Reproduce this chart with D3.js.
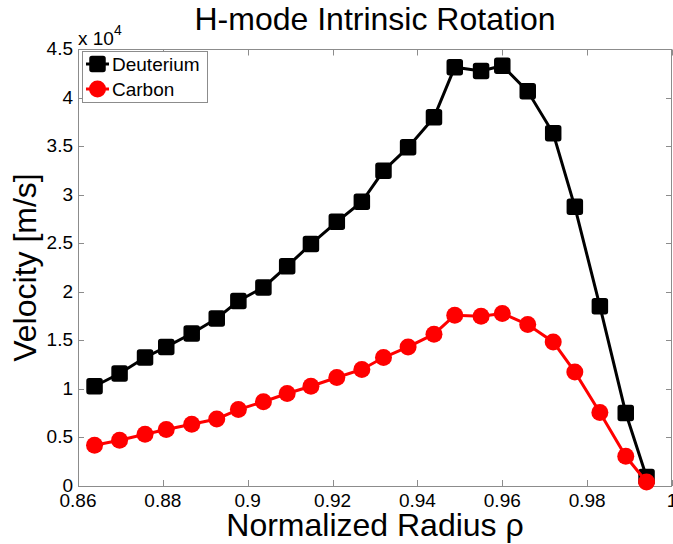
<!DOCTYPE html>
<html>
<head>
<meta charset="utf-8">
<script src="https://cdn.jsdelivr.net/npm/d3@7"></script>
<style>
  body { margin: 0; background: #fff; }
  #graf { width: 673px; height: 544px; }
  text { font-family: "Liberation Sans", Arial, sans-serif; fill: #000; }
</style>
</head>
<body>
<div id="graf"></div>
<script>
// datos
const radio = [0.8639, 0.8698, 0.8758, 0.8808, 0.8868, 0.8927, 0.8978, 0.9037, 0.9093, 0.9149, 0.9210, 0.9269,
  0.9320, 0.9378, 0.9439, 0.9488, 0.9550, 0.9600, 0.9660, 0.9720, 0.9771, 0.9830, 0.9891, 0.9940]
const deuterio = [10270, 11580, 13230, 14320, 15700, 17250, 19060, 20450, 22640, 24910, 27200, 29270,
  32460, 34870, 37960, 43120, 42740, 43280, 40640, 36320, 28750, 18520, 7520, 930]
const carbono = [4190, 4710, 5330, 5810, 6360, 6900, 7870, 8680, 9520, 10270, 11170, 12000,
  13230, 14320, 15630, 17590, 17490, 17770, 16630, 14840, 11750, 7560, 3060, 410]
const xTicks = [0.86, 0.88, 0.9, 0.92, 0.94, 0.96, 0.98, 1]
const yTicks = [0, 5000, 10000, 15000, 20000, 25000, 30000, 35000, 40000, 45000]
const series = [
  { name: "Deuterium", values: deuterio, color: "#000", marker: "square" },
  { name: "Carbon", values: carbono, color: "#ff0000", marker: "circle" }
]

const anchoTotal = 673
const altoTotal = 544
const margins = { left: 78, top: 49, right: 1, bottom: 58 }
const ancho = anchoTotal - margins.left - margins.right
const alto = altoTotal - margins.top - margins.bottom
const gris = "#8c8c8c"

const svg = d3.select("#graf")
  .append("svg")
  .attr("width", anchoTotal)
  .attr("height", altoTotal)

const g = svg.append("g")
  .attr("transform", `translate(${margins.left}, ${margins.top})`)

const x = d3.scaleLinear().domain([0.86, 1]).range([0, ancho])
const y = d3.scaleLinear().domain([0, 45000]).range([alto, 0])

// caja
g.append("rect")
  .attr("x", 0.5).attr("y", 0.5)
  .attr("width", ancho - 1).attr("height", alto)
  .attr("fill", "none").attr("stroke", gris)

// ticks hacia dentro
const tickLen = 6
g.selectAll(".tx").data(xTicks).enter()
  .append("path")
  .attr("d", (d) => `M${Math.round(x(d)) + 0.5},${alto}v${-tickLen}M${Math.round(x(d)) + 0.5},0.5v${tickLen}`)
  .attr("stroke", gris)
g.selectAll(".ty").data(yTicks).enter()
  .append("path")
  .attr("d", (d) => `M0,${Math.round(y(d)) + 0.5}h${tickLen}M${ancho},${Math.round(y(d)) + 0.5}h${-tickLen}`)
  .attr("stroke", gris)

g.selectAll(".lx").data(xTicks).enter()
  .append("text")
  .attr("x", (d) => x(d))
  .attr("y", alto + 21)
  .attr("text-anchor", "middle")
  .style("font-size", "19px")
  .text((d) => d3.format("")(d))

g.selectAll(".ly").data(yTicks).enter()
  .append("text")
  .attr("x", -5)
  .attr("y", (d) => y(d) + 6)
  .attr("text-anchor", "end")
  .style("font-size", "19px")
  .text((d) => d3.format("")(d / 10000))

// exponente
const expo = g.append("text").attr("x", 0).attr("y", -4).style("font-size", "19px")
expo.append("tspan").text("x 10")
expo.append("tspan").attr("dy", -10).style("font-size", "14px").text("4")

// titulo y etiquetas
g.append("text")
  .attr("x", ancho / 2).attr("y", -19)
  .attr("text-anchor", "middle")
  .style("font-size", "32px")
  .text("H-mode Intrinsic Rotation")

g.append("text")
  .attr("x", ancho / 2).attr("y", alto + 50)
  .attr("text-anchor", "middle")
  .style("font-size", "32px")
  .text("Normalized Radius ρ")

g.append("text")
  .attr("transform", `translate(-42, ${alto / 2}) rotate(-90)`)
  .attr("text-anchor", "middle")
  .style("font-size", "32px")
  .text("Velocity [m/s]")

// lineas y marcadores
const linea = d3.line().x((d, i) => x(radio[i])).y((d) => y(d))

const dibujaMarcador = (sel, s, px, py) => {
  if (s.marker === "square") {
    sel.append("rect")
      .attr("x", px - 7.5).attr("y", py - 7.5)
      .attr("width", 15).attr("height", 15)
      .attr("rx", 2)
      .attr("fill", s.color).attr("stroke", s.color).attr("stroke-width", 1.5)
  } else {
    sel.append("circle")
      .attr("cx", px).attr("cy", py).attr("r", 8.5)
      .attr("fill", s.color)
  }
}

series.forEach((s) => {
  g.append("path")
    .datum(s.values)
    .attr("d", linea)
    .attr("fill", "none")
    .attr("stroke", s.color)
    .attr("stroke-width", 3)
  const gm = g.append("g")
  s.values.forEach((v, i) => dibujaMarcador(gm, s, x(radio[i]), y(v)))
})

// leyenda
const ley = g.append("g").attr("transform", "translate(4, 2)")
ley.append("rect")
  .attr("x", 0.5).attr("y", 0.5)
  .attr("width", 125).attr("height", 51)
  .attr("fill", "#fff").attr("stroke", gris)
series.forEach((s, i) => {
  const yy = 13 + i * 25
  ley.append("line")
    .attr("x1", 4).attr("x2", 27).attr("y1", yy).attr("y2", yy)
    .attr("stroke", s.color).attr("stroke-width", 3)
  dibujaMarcador(ley, s, 15.5, yy)
  ley.append("text")
    .attr("x", 30).attr("y", yy + 7)
    .style("font-size", "19px")
    .text(s.name)
})
</script>
</body>
</html>
